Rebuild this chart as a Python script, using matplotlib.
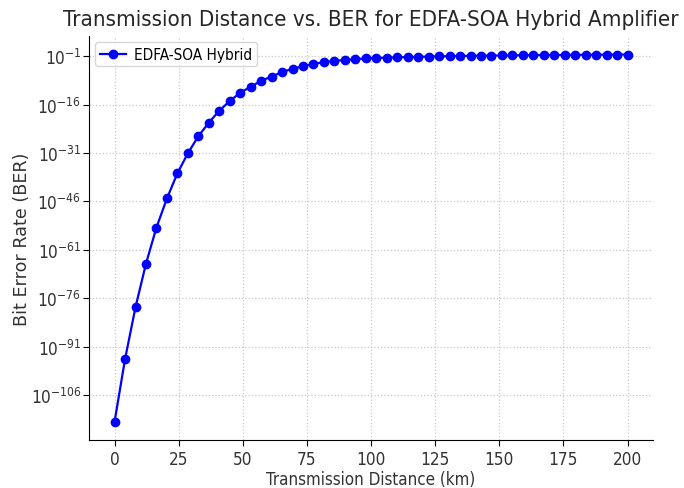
import numpy as np
import matplotlib
matplotlib.use("Agg")
import matplotlib.pyplot as plt
from matplotlib.ticker import FixedLocator, NullLocator, LogFormatterSciNotation

plt.rcParams['font.family'] = ['DejaVu Sans Condensed', 'DejaVu Sans']
plt.rcParams['font.stretch'] = 'condensed'

# transmission distance (km), 50 samples between 0 and 200
distance_km = np.linspace(0, 200, 50)

# log10(BER), one per distance sample
log_ber = [
    -114.3, -94.9, -78.8, -65.3, -54.1, -45.1, -37.3, -31.1, -25.8, -21.6,
    -17.9, -14.9, -12.3, -10.5, -8.6, -7.3, -5.9, -4.9, -4.1, -3.35,
    -2.85, -2.45, -2.15, -1.9, -1.7, -1.55, -1.45, -1.35, -1.25, -1.17,
    -1.1, -1.04, -0.98, -0.93, -0.88, -0.84, -0.8, -0.76, -0.73, -0.7,
    -0.67, -0.64, -0.61, -0.59, -0.57, -0.55, -0.53, -0.51, -0.49, -0.47,
]
ber = 10.0 ** np.array(log_ber)

y_tick_exponents = [-106, -91, -76, -61, -46, -31, -16, -1]

fig = plt.figure(figsize=(6.84, 4.89), dpi=100)
ax = fig.add_axes([0.130, 0.098, 0.825, 0.826])

ax.plot(distance_km, ber, color='#0000ff', marker='o', markersize=6,
        linewidth=1.6, label='EDFA-SOA Hybrid')
ax.set_yscale('log')
ax.yaxis.set_major_locator(FixedLocator([10.0 ** e for e in y_tick_exponents]))
ax.yaxis.set_major_formatter(LogFormatterSciNotation())
ax.yaxis.set_minor_locator(NullLocator())

ax.set_title('Transmission Distance vs. BER for EDFA-SOA Hybrid Amplifier',
             fontsize=16, color='#262626', pad=8)
ax.set_xlabel('Transmission Distance (km)', fontsize=12.2, color='#333333',
              labelpad=1)
ax.set_ylabel('Bit Error Rate (BER)', fontsize=12.6, color='#333333',
              family='DejaVu Sans', stretch='normal')
ax.yaxis.set_label_coords(-0.103, 0.5)
ax.tick_params(labelsize=12.3, labelcolor='#333333', length=4)
ax.tick_params(axis='y', pad=1.5)
ax.set_xticks([0, 25, 50, 75, 100, 125, 150, 175, 200])

ax.grid(True, linestyle=':', color='#c8c8c8', linewidth=0.9)
ax.spines['top'].set_visible(False)
ax.spines['right'].set_visible(False)
ax.legend(loc='upper left', fontsize=11, framealpha=0.8, borderpad=0.3,
          handlelength=1.7, handletextpad=0.55, borderaxespad=0.4)

fig.savefig('out.png', dpi=100)
